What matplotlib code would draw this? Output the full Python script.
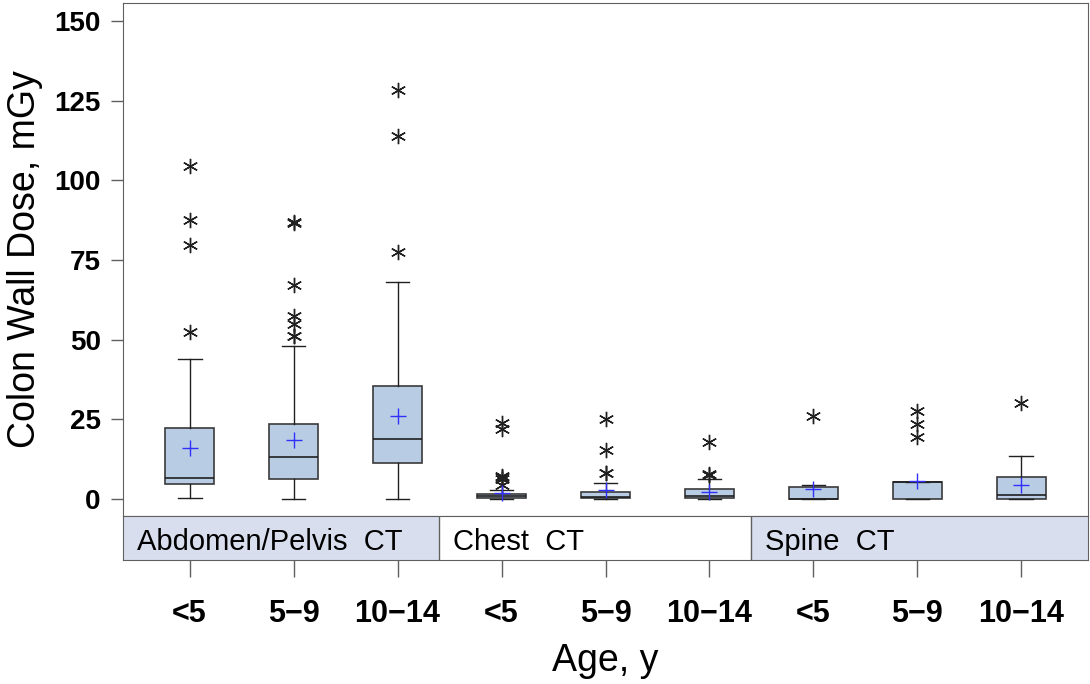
import numpy as np
import matplotlib
matplotlib.use("Agg")
import matplotlib.pyplot as plt

plt.rcParams['font.family'] = ['Liberation Sans', 'DejaVu Sans']

# categories
age_labels = ["<5", "5\u22129", "10\u221214"] * 3
exam_labels = ["Abdomen/Pelvis  CT", "Chest  CT", "Spine  CT"]

# box statistics (mGy)
q1 = [4.7, 6.2, 11.4, 0.3, 0.2, 0.5, 0.0, 0.0, 0.0]
med = [6.6, 13.1, 19.0, 1.0, 0.8, 0.9, 0.1, 5.4, 1.2]
q3 = [22.2, 23.7, 35.6, 1.7, 2.3, 3.2, 3.7, 5.4, 7.0]
mean = [15.9, 18.5, 26.1, 2.0, 2.7, 2.1, 3.3, 5.8, 4.3]
whis_lo = [0.4, 0.0, 0.1, 0.0, 0.0, 0.0, 0.0, 0.0, 0.0]
whis_hi = [43.8, 47.9, 68.2, 2.8, 4.9, 6.4, 4.5, 5.4, 13.5]
outliers = [
    [104.6, 87.5, 79.7, 52.4],
    [86.8, 86.5, 67.1, 57.5, 54.9, 51.2, 51.0],
    [128.3, 113.9, 77.4],
    [23.9, 22.1, 7.2, 7.0, 6.4, 4.5],
    [25.0, 15.5, 8.3, 8.1],
    [17.8, 7.9, 7.7],
    [26.1],
    [27.5, 23.7, 19.4],
    [30.1],
]

stats = []
for i in range(len(med)):
    stats.append(dict(q1=q1[i], med=med[i], q3=q3[i], mean=mean[i],
                      whislo=whis_lo[i], whishi=whis_hi[i],
                      fliers=outliers[i]))

fig = plt.figure(figsize=(10.9, 6.84), dpi=100)
ax = fig.add_axes([123 / 1090, 1 - 516 / 684, 965 / 1090, 513 / 684])
ax_strip = fig.add_axes([123 / 1090, 1 - 560 / 684, 965 / 1090, 44 / 684], sharex=ax)

pos = np.arange(len(med))
ax.bxp(stats, positions=pos, widths=0.47, showmeans=True, patch_artist=True,
       boxprops=dict(facecolor="#b8cce4", edgecolor="#3a3a3a", linewidth=1.2),
       medianprops=dict(color="#202020", linewidth=1.2),
       whiskerprops=dict(color="#202020", linewidth=1),
       capprops=dict(color="#202020", linewidth=1),
       capwidths=0.23,
       meanprops=dict(marker="+", markeredgecolor="#3030ff", markersize=12,
                      markeredgewidth=1),
       flierprops=dict(marker=(6, 2, 0), markeredgecolor="#202020",
                       markersize=11, markeredgewidth=1, linestyle="none"))

ax.set_xlim(-0.64, 8.64)
ax.set_ylim(-5.3, 155.6)
ax.set_yticks([0, 25, 50, 75, 100, 125, 150])
ax.tick_params(axis="y", direction="out", length=9, width=1, color="#606060",
               labelsize=20, pad=7)
for lab in ax.get_yticklabels():
    lab.set_fontweight("bold")
ax.tick_params(axis="x", bottom=False, labelbottom=False)
ax.set_ylabel("Colon Wall Dose, mGy", fontsize=27, labelpad=8)
for s in ax.spines.values():
    s.set_color("#606060")

# strip with exam type cells
ax_strip.set_ylim(0, 1)
divs = [-0.64, 2.4, 5.4, 8.64]
fills = ["#d8deee", "white", "#d8deee"]
for k in range(3):
    ax_strip.axvspan(divs[k], divs[k + 1], color=fills[k], zorder=0)
    if k > 0:
        ax_strip.axvline(divs[k], color="#606060", linewidth=1)
    ax_strip.text(divs[k] + 0.13, 0.4, exam_labels[k], fontsize=21,
                  ha="left", va="center")
ax_strip.set_yticks([])
ax_strip.set_xticks(pos)
ax_strip.set_xticklabels(age_labels, fontsize=22, fontweight="bold")
ax_strip.tick_params(axis="x", direction="out", length=12, width=1,
                     color="#606060", pad=16)
for s in ax_strip.spines.values():
    s.set_color("#606060")
ax_strip.set_xlabel("Age, y", fontsize=27, labelpad=10)

fig.savefig("out.png", dpi=100)
